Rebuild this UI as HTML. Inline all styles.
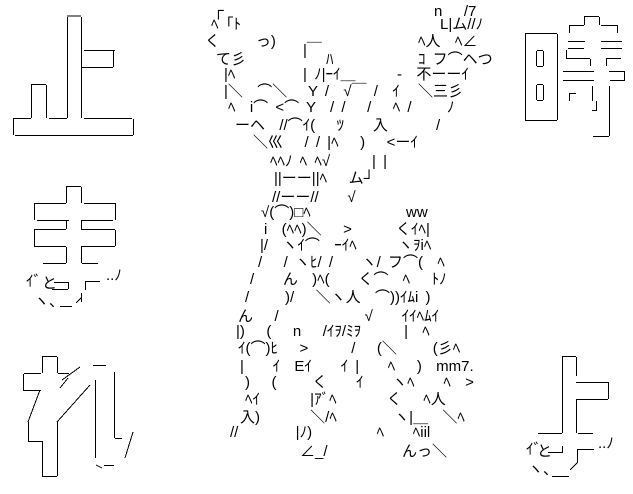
<!DOCTYPE html>
<html><head><meta charset="utf-8"><style>
html,body{margin:0;padding:0;background:#fff;width:633px;height:494px;overflow:hidden;position:relative}
svg{position:absolute;left:0;top:0}
.t{position:absolute;white-space:pre;font-family:"Liberation Sans","Noto Sans CJK JP",sans-serif;font-size:15px;line-height:16px;color:#000;word-spacing:3px}
</style></head><body>
<svg width="633" height="494" stroke="#000" stroke-width="1" fill="none" shape-rendering="crispEdges">
<path d="M67,16H81 M67.5,17V118 M81.5,17V118 M84,50.5H115 M113.5,50V67 M81,67.5H113 M31,84.5H46 M31.5,85V118 M46.5,85V118 M13,118.5H31 M49,118.5H67 M84,118.5H132 M13.5,119V135 M133.5,119V135 M15,135.5H133"/>
<path d="M66,186.5H81 M66.5,187V203 M81.5,187V203 M34,203.5H66 M84,203.5H116 M34.5,204V220 M115.5,204V220 M37,220.5H69 M81,220.5H113 M66.5,221V229 M81.5,221V229 M34,229.5H66 M81,229.5H115 M34.5,230V246 M115.5,230V246 M34,246.5H66 M81,246.5H115 M66.5,247V263 M81.5,247V263 M43,263.5H66 M82,263.5H98 M54,282.5H68 M52,289.5H68 M68.5,282V289 M85,281.5H100 M85.5,282V290 M81.5,293V302 M76,303L81,298 M60,306.5H72"/>
<path d="M42,356.5H57 M42.5,357V373 M57.5,357V373 M24,373.5H41 M58,373.5H69 M23.5,374V390 M23,390.5H41 M40,390L28,422 M28.5,422V441 M28,441.5H42 M42.5,441V476 M57.5,421V476 M42,476.5H57 M57,422L90,385 M62,380L80,367 M60,388L68,378 M93,365.5H106 M95.5,380V458 M114.5,372V438 M115,438.5H122 M133,432L125,458 M104,465.5H114 M96,465L102,468"/>
<path d="M525,33.5H557 M525.5,34V120 M557.5,34V120 M525,120.5H557 M537,50.5H543 M536.5,51V66 M543.5,51V66 M537,66.5H543 M537,84.5H543 M536.5,85V100 M543.5,85V100 M537,100.5H543 M584,16.5H599 M584.5,17V25 M599.5,17V25 M569,25.5H584 M601,25.5H618 M569.5,26V33 M617.5,26V33 M568,41.5H585 M601,41.5H622 M568,48.5H584 M601,48.5H622 M566.5,50V58 M566,58.5H590 M606,58.5H621 M590.5,59V66 M606.5,59V66 M563,71.5H594 M609,71.5H624 M563,80.5H594 M610,80.5H624 M624.5,71V81 M569.5,93V101 M570,93.5H576 M592.5,86V101 M609.5,86V101 M592,110.5H597 M596.5,101V110 M609.5,101V136 M593,136.5H609"/>
<path d="M562,356.5H576 M562.5,357V433 M576.5,357V376 M576,382.5H608 M608.5,382V399 M576,399.5H608 M576.5,400V433 M538,433.5H562 M578,433.5H593 M548,452.5H562 M562.5,446V453 M577,449.5H594 M577.5,450V463 M570,470L577,463 M552,476.5H569"/>
</svg>
<div class="t" style="left:26px;top:274px">ｲ゛</div>
<div class="t" style="left:42px;top:276px">と</div>
<div class="t" style="left:106px;top:268px">..ﾉ</div>
<div class="t" style="left:34px;top:294px">ヽ、</div>
<div class="t" style="left:526px;top:442px">ｲ゛</div>
<div class="t" style="left:537px;top:444px">と</div>
<div class="t" style="left:598px;top:436px">..ﾉ</div>
<div class="t" style="left:528px;top:462px">ヽ、</div>

<div class="t" style="left:213px;top:3px">┌</div>
<div class="t" style="left:434px;top:4px">n   /7</div>
<div class="t" style="left:211px;top:17px">ﾍ「ﾄ</div>
<div class="t" style="left:440px;top:17px">L|ム//ﾉ</div>
<div class="t" style="left:205px;top:34px">く     っ)</div>
<div class="t" style="left:418px;top:34px">ﾍ人  ﾍ∠</div>
<div class="t" style="left:303px;top:43px">|￣</div>
<div class="t" style="left:216px;top:52px">て彡</div>
<div class="t" style="left:326px;top:52px">ﾊ</div>
<div class="t" style="left:418px;top:52px">ｺ フ⌒ヘつ</div>
<div class="t" style="left:224px;top:67px">|ﾍ</div>
<div class="t" style="left:303px;top:67px">| ﾉ|ｰｲ＿</div>
<div class="t" style="left:397px;top:67px">-  不ーーｲ</div>
<div class="t" style="left:224px;top:84px">|＼  ⌒＼</div>
<div class="t" style="left:308px;top:84px">Y /  √￣ /  ｲ</div>
<div class="t" style="left:418px;top:84px">＼三彡</div>
<div class="t" style="left:228px;top:100px">ﾍ  i⌒ <⌒ Y  / /   /   ﾍ /</div>
<div class="t" style="left:447px;top:100px">ﾉ</div>
<div class="t" style="left:235px;top:118px">ーヘ  //⌒ｲ(   ﾂ    入</div>
<div class="t" style="left:436px;top:118px">/</div>
<div class="t" style="left:253px;top:135px">＼巛   / / |ﾍ   )   <ーｲ</div>
<div class="t" style="left:270px;top:154px">ﾍﾍﾉ ﾍ ﾍ√</div>
<div class="t" style="left:372px;top:154px">| |</div>
<div class="t" style="left:274px;top:171px">||ーー||ﾍ   ム┘</div>
<div class="t" style="left:272px;top:190px">//ーー//    √</div>
<div class="t" style="left:261px;top:205px">√(⌒)□ﾍ</div>
<div class="t" style="left:406px;top:205px">ww</div>
<div class="t" style="left:264px;top:222px">i  (ﾍﾍ)＼   ></div>
<div class="t" style="left:396px;top:222px">くｲﾍ|</div>
<div class="t" style="left:260px;top:238px">|/  ヽｲ⌒  ｰｲﾍ</div>
<div class="t" style="left:398px;top:238px">ヽｦiﾍ</div>
<div class="t" style="left:258px;top:255px">/   / ヽﾋ/ /    ヽ/ フ⌒(  ﾍ</div>
<div class="t" style="left:250px;top:272px">/    ん  )ﾍ(    く⌒  ﾍ   ﾄﾉ</div>
<div class="t" style="left:245px;top:290px">/     )/   ＼ヽ人  ⌒))ｲﾑi )</div>
<div class="t" style="left:238px;top:309px">ん   /            √    ｲｲﾍﾑｲ</div>
<div class="t" style="left:236px;top:324px">|)   (   n   /ｲｦ/ﾐｦ      |  ﾍ</div>
<div class="t" style="left:238px;top:341px">ｲ(⌒)ﾋ   >      /   (＼     (彡ﾍ</div>
<div class="t" style="left:240px;top:359px">|    ｲ  Eｲ    ｲ |    ﾍ   )  mm7.</div>
<div class="t" style="left:245px;top:375px">)   (     く    ｲ    ヽﾍ    ﾍ  ></div>
<div class="t" style="left:245px;top:392px">ﾍｲ       |ｱﾞﾍ       く   ﾍ人</div>
<div class="t" style="left:240px;top:410px">入)       ＼/ﾍ        ヽ|＿  ＼ﾍ</div>
<div class="t" style="left:230px;top:425px">//        |ﾉ)         ﾍ    ﾍiil</div>
<div class="t" style="left:300px;top:444px">∠_/</div>
<div class="t" style="left:402px;top:444px">んっ＼</div>
</body></html>
